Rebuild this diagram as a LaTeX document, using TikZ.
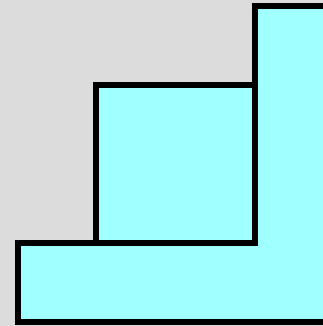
\documentclass[tikz,border=0pt]{standalone}
\definecolor{bggray}{HTML}{DCDCDC}
\definecolor{stepcyan}{HTML}{A0FFFF}
\tikzset{outline/.style={draw=black,line width=6.5pt,line join=miter,line cap=butt}}
\begin{document}
\begin{tikzpicture}[x=1pt,y=-1pt]
\useasboundingbox (0,0) rectangle (323,326);
\clip (0,0) rectangle (323,326);
\fill[bggray] (0,0) rectangle (323,326);
\fill[stepcyan] (18,243) -- (96,243) -- (96,85) -- (255,85) -- (255,6) -- (340,6) -- (340,322) -- (18,322) -- cycle;
\draw[outline] (340,6) -- (255,6) -- (255,243) -- (18,243) -- (18,322) -- (340,322);
\draw[outline] (96,243) -- (96,85) -- (255,85);
\end{tikzpicture}
\end{document}
